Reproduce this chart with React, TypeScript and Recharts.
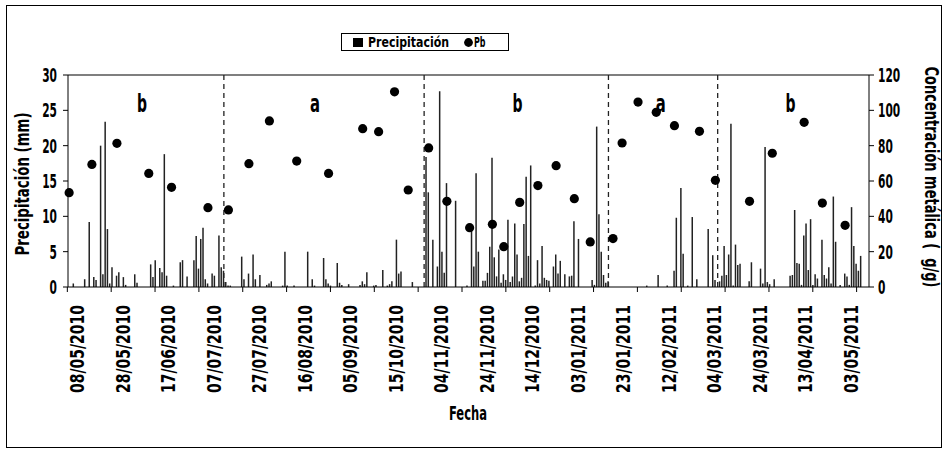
import {
  ComposedChart,
  Bar,
  Scatter,
  XAxis,
  YAxis,
  ReferenceLine,
  ReferenceDot,
} from "recharts";

const FONT = "'DejaVu Sans Condensed', 'Liberation Sans Narrow', sans-serif";

// one category per sampled day (the record has a gap in Sept 2010)
const DAY_COUNT = 352;

const TICK_DAYS = [0, 20, 40, 60, 80, 100, 120, 140, 160, 180, 200, 220, 240, 260, 280, 300, 320, 340];
const TICK_LABELS = [
  "08/05/2010", "28/05/2010", "17/06/2010", "07/07/2010", "27/07/2010", "16/08/2010",
  "05/09/2010", "15/10/2010", "04/11/2010", "24/11/2010", "14/12/2010", "03/01/2011",
  "23/01/2011", "12/02/2011", "04/03/2011", "24/03/2011", "13/04/2011", "03/05/2011",
];

// daily precipitation (mm), only rainy days
const RAIN_DAYS = [
  2, 7, 9, 11, 12, 14, 15, 16, 17, 18, 19, 21, 22, 24, 25, 29, 30, 36, 37, 38, 40, 41, 42, 43, 46,
  49, 50, 52, 55, 56, 57, 58, 59, 60, 61, 63, 64, 66, 67, 68, 69, 70, 71, 76, 77, 79, 81, 82, 84, 87,
  88, 89, 94, 95, 96, 99, 105, 107, 108, 112, 113, 114, 115, 118, 119, 120, 123, 128, 129, 130, 131,
  134, 135, 138, 140, 141, 142, 144, 145, 146, 151, 157, 158, 160, 162, 163, 164, 165, 166, 170, 175,
  177, 178, 179, 180, 182, 183, 184, 185, 186, 187, 188, 189, 190, 191, 192, 193, 194, 195, 196, 197,
  198, 199, 200, 201, 202, 203, 205, 206, 207, 208, 209, 210, 211, 213, 214, 215, 216, 218, 220, 221,
  222, 224, 230, 231, 232, 233, 234, 235, 236, 237, 254, 259, 263, 266, 267, 269, 270, 272, 274, 276,
  281, 283, 284, 286, 287, 288, 289, 290, 291, 292, 293, 294, 295, 299, 300, 304, 305, 306, 307, 308,
  310, 317, 318, 319, 320, 321, 322, 323, 324, 325, 326, 327, 328, 329, 331, 332, 333, 334, 335, 336,
  337, 339, 341, 342, 343, 344, 345, 346, 347, 348,
];
const RAIN_MM = [
  0.5, 1.1, 9.2, 1.4, 1.0, 20.0, 1.8, 23.4, 8.2, 0.5, 2.8, 1.6, 2.1, 1.4, 0.3, 1.8, 0.6, 3.2, 1.4, 3.8, 2.7, 2.1, 18.8, 1.6, 0.2,
  3.5, 3.8, 1.5, 3.8, 7.2, 2.6, 6.8, 8.4, 1.1, 0.5, 1.9, 1.6, 7.3, 2.8, 2.3, 0.7, 0.2, 0.2, 4.3, 1.1, 1.9, 4.6, 1.1, 1.7, 0.3,
  0.5, 0.8, 0.2, 5.0, 0.2, 0.2, 5.0, 1.1, 0.2, 4.1, 1.1, 0.5, 0.2, 3.4, 0.6, 0.3, 0.4, 0.3, 0.8, 0.4, 2.1,
  0.2, 0.3, 2.4, 0.2, 0.4, 0.8, 6.7, 1.9, 2.2, 0.7, 18.4, 13.4, 6.7, 2.9, 27.7, 5.0, 2.0, 14.7, 12.2, 0.2,
  8.1, 2.9, 16.1, 5.0, 0.9, 0.9, 2.0, 5.7, 18.3, 4.2, 1.5, 5.3, 0.6, 1.8, 1.0, 9.5, 0.7, 1.5, 9.0, 4.6,
  0.8, 1.3, 8.9, 15.6, 4.4, 17.2, 0.2, 3.8, 0.5, 5.8, 1.3, 1.0, 0.9, 2.9, 4.6, 1.9, 3.7, 1.8, 1.5, 1.6,
  9.3, 6.8, 1.0, 0.3, 22.7, 10.3, 5.0, 1.7, 0.6, 0.8, 0.2, 1.7, 0.2, 2.3, 9.8, 14.0, 4.7, 0.2, 9.9, 1.1,
  8.2, 4.5, 1.0, 0.8, 1.6, 5.8, 1.7, 4.6, 23.1, 0.2, 6.0, 3.1, 3.3, 0.8, 3.5, 2.6, 0.5, 19.8, 0.7, 0.4,
  1.1, 1.6, 1.7, 10.9, 3.4, 3.3, 0.3, 7.3, 9.0, 2.4, 9.6, 0.3, 1.8, 1.2, 6.7, 1.7, 1.2, 2.8, 0.5, 12.8,
  6.4, 0.3, 1.9, 1.5, 0.3, 11.3, 5.8, 3.3, 2.3, 4.4,
];

// Pb concentration (ug/g)
const PB_DAYS = [
  0, 10, 21, 35, 45, 61, 70, 79, 88, 100, 114, 129, 136, 143, 149, 158, 166, 176, 186, 191, 198,
  206, 214, 222, 229, 239, 243, 250, 258, 266, 277, 284, 299, 309, 323, 331, 341,
];
const PB_VALUES = [
  53.4, 69.4, 81.3, 64.3, 56.4, 44.9, 43.6, 69.8, 94.0, 71.3, 64.3, 89.6, 87.9, 110.5, 54.9, 78.7, 48.5,
  33.6, 35.5, 22.8, 47.9, 57.4, 68.7, 50.0, 25.5, 27.4, 81.5, 104.7, 98.9, 91.3, 88.1, 60.4, 48.5,
  75.7, 93.2, 47.5, 34.9,
];

const DIVIDER_DAYS = [68, 156, 237, 285];
const PERIOD_DAYS = [32, 108, 197, 260, 317];
const PERIOD_LABELS = ["b", "a", "b", "a", "b"];

const RAIN_TICKS = [0, 5, 10, 15, 20, 25, 30];
const PB_TICKS = [0, 20, 40, 60, 80, 100, 120];

const data = Array.from({ length: DAY_COUNT }, (_, day) => {
  const r = RAIN_DAYS.indexOf(day);
  const p = PB_DAYS.indexOf(day);
  return {
    day,
    rain: r >= 0 ? RAIN_MM[r] : null,
    pb: p >= 0 ? PB_VALUES[p] : null,
  };
});

// the original uses a very narrow face, so widths are forced with textLength
function NarrowText({ x, y, len, size = 19, anchor = "start", rotate = 0, baseline, children }: any) {
  return (
    <text
      x={x}
      y={y}
      transform={rotate ? `rotate(${rotate} ${x} ${y})` : undefined}
      textAnchor={anchor}
      dominantBaseline={baseline}
      fontSize={size}
      fontWeight="bold"
      fontFamily={FONT}
      fill="#000"
      textLength={len}
      lengthAdjust="spacingAndGlyphs"
    >
      {children}
    </text>
  );
}

function DateTick(props: any) {
  const { x, y, payload } = props;
  const k = TICK_DAYS.indexOf(payload.value);
  if (k < 0) return <g />;
  // tick marks in the original drift slightly from the labels
  const tx = x - 1.8 - 1.66 * k;
  return (
    <g>
      <line x1={tx} x2={tx} y1={y} y2={y + 5} stroke="#000" />
      {k === TICK_DAYS.length - 1 && (
        <line x1={tx + 43.8} x2={tx + 43.8} y1={y} y2={y + 5} stroke="#000" />
      )}
      <NarrowText x={x + 15} y={y + 18} len={88} anchor="end" rotate={-90}>
        {TICK_LABELS[k]}
      </NarrowText>
    </g>
  );
}

function ValueTick(props: any) {
  const { x, y, payload, textAnchor } = props;
  const s = String(payload.value);
  return (
    <NarrowText x={x} y={y + 7} len={s.length * 7.4} anchor={textAnchor}>
      {s}
    </NarrowText>
  );
}

function PbDot(props: any) {
  if (props.payload?.pb == null) return <g />;
  return <circle cx={props.cx} cy={props.cy} r={4.6} fill="#000" />;
}

function FechaTitle() {
  return (
    <NarrowText x={468} y={420} len={38} anchor="middle">
      Fecha
    </NarrowText>
  );
}

function RainTitle() {
  return (
    <NarrowText x={29} y={184} len={143} anchor="middle" rotate={-90}>
      Precipitación (mm)
    </NarrowText>
  );
}

function PbTitle() {
  return (
    <NarrowText x={925} y={177} len={221} anchor="middle" rotate={90}>
      {"Concentración metálica (\u00a0\u00a0g/g)"}
    </NarrowText>
  );
}

function periodLabel(text: string) {
  return (p: any) => {
    const vb = p.viewBox || {};
    const cx = (vb.x ?? 0) + (vb.width ?? 0) / 2;
    const cy = (vb.y ?? 0) + (vb.height ?? 0) / 2;
    return (
      <NarrowText x={cx} y={cy} len={10} size={24} anchor="middle">
        {text}
      </NarrowText>
    );
  };
}

export default function App() {
  return (
    <div style={{ position: "absolute", left: 0, top: 0, width: 947, height: 453, background: "#fff" }}>
      <div
        style={{
          position: "absolute",
          left: 6,
          top: 5,
          width: 936,
          height: 443,
          border: "1px solid #000",
          boxSizing: "border-box",
        }}
      />
      <ComposedChart
        width={947}
        height={453}
        data={data}
        margin={{ top: 75, right: 0, bottom: 0, left: 0 }}
        style={{ position: "absolute", left: 0, top: 0 }}
      >
        <XAxis
          dataKey="day"
          type="category"
          interval={0}
          ticks={TICK_DAYS}
          height={166}
          tickSize={0}
          tickMargin={0}
          tickLine={false}
          tick={<DateTick />}
          stroke="#000"
          label={<FechaTitle />}
        />
        <YAxis
          yAxisId="left"
          domain={[0, 30]}
          ticks={RAIN_TICKS}
          width={68}
          tickSize={5}
          tickMargin={6}
          stroke="#000"
          tick={<ValueTick />}
          label={<RainTitle />}
        />
        <YAxis
          yAxisId="right"
          orientation="right"
          domain={[0, 120]}
          ticks={PB_TICKS}
          width={78}
          tickSize={5}
          tickMargin={4}
          stroke="#000"
          tick={<ValueTick />}
          label={<PbTitle />}
        />
        <ReferenceLine yAxisId="left" y={30} stroke="#000" strokeWidth={1.2} />
        {DIVIDER_DAYS.map((d) => (
          <ReferenceLine
            key={d}
            yAxisId="left"
            x={d}
            stroke="#222"
            strokeWidth={1.3}
            strokeDasharray="5 4"
          />
        ))}
        <Bar
          yAxisId="left"
          dataKey="rain"
          fill="#222"
          barSize={1.5}
          isAnimationActive={false}
        />
        <Scatter
          yAxisId="right"
          dataKey="pb"
          shape={<PbDot />}
          isAnimationActive={false}
        />
        {PERIOD_DAYS.map((d, i) => (
          <ReferenceDot
            key={d}
            yAxisId="left"
            x={d}
            y={24.8}
            r={0}
            fill="none"
            stroke="none"
            label={{ content: periodLabel(PERIOD_LABELS[i]) }}
          />
        ))}
      </ComposedChart>
      <svg
        width={168}
        height={18}
        style={{ position: "absolute", left: 341, top: 33 }}
      >
        <rect x={0.5} y={0.5} width={167} height={17} fill="#fff" stroke="#000" />
        <rect x={12} y={5} width={10} height={9} fill="#000" />
        <NarrowText x={27} y={14} len={81} size={14}>
          Precipitación
        </NarrowText>
        <circle cx={127.5} cy={9.5} r={4.4} fill="#000" />
        <NarrowText x={133} y={14} len={11.5} size={14}>
          Pb
        </NarrowText>
      </svg>
    </div>
  );
}
